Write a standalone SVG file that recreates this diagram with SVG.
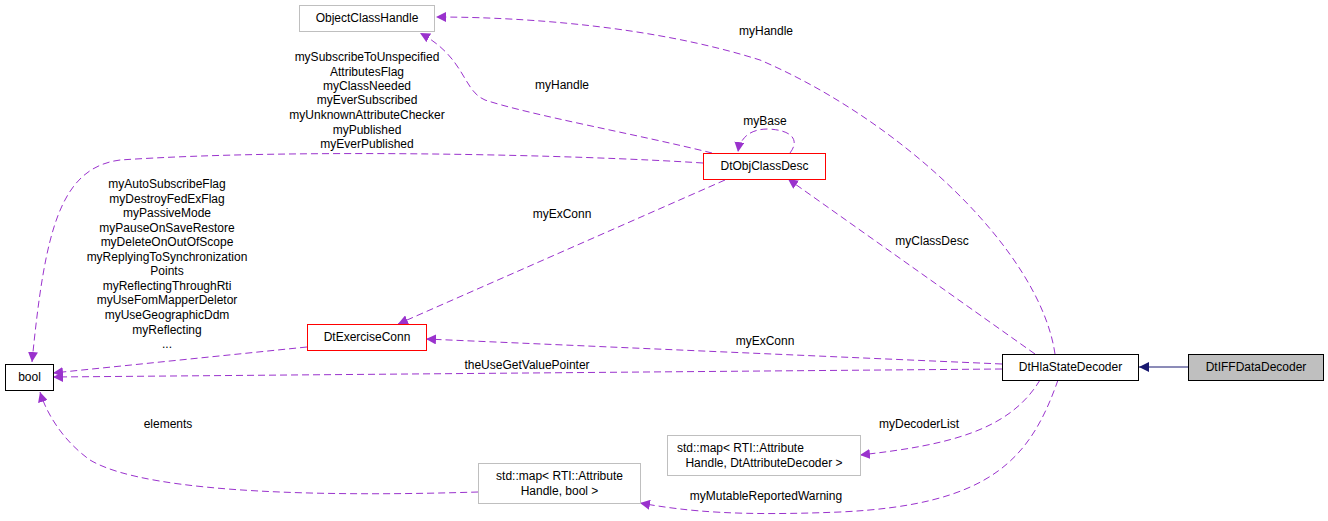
<svg xmlns="http://www.w3.org/2000/svg" width="1328" height="521" viewBox="0 0 1328 521">
<style>
text{font-family:"Liberation Sans",Arial,sans-serif;font-size:12px;fill:#000}
.n rect{fill:#fff;stroke-width:1}
.e{fill:none;stroke:#9a32cd;stroke-dasharray:7,4;stroke-width:1}
.lab{text-anchor:middle}
</style>
<defs>
<marker id="a" viewBox="0 0 10 10" refX="10" refY="5" markerWidth="10" markerHeight="10" markerUnits="userSpaceOnUse" orient="auto"><path d="M0,0L10,5L0,10z" fill="#9a32cd"/></marker>
<marker id="b" viewBox="0 0 10 10" refX="10" refY="5" markerWidth="10" markerHeight="10" markerUnits="userSpaceOnUse" orient="auto"><path d="M0,0L10,5L0,10z" fill="#191970"/></marker>
</defs>
<g id="connectors">
<path class="e" marker-end="url(#a)" d="M1055,354 C1040,250 900,120 760,60 C640,22 500,17 436,17"/>
<text class="lab" x="766" y="35">myHandle</text>
<path class="e" marker-end="url(#a)" d="M712,153 C640,135 530,115 485,100 C462,90 466,58 420,33"/>
<text class="lab" x="562" y="89">myHandle</text>
<path class="e" marker-end="url(#a)" d="M790,153 C800,140 792,130 768,129 C750,129 740,138 738,152"/>
<text class="lab" x="765" y="125">myBase</text>
<path class="e" marker-end="url(#a)" d="M703,163 C580,155 300,148 120,160 C60,168 45,230 32,362"/>
<g class="lab"><text x="367" y="61">mySubscribeToUnspecified</text><text x="367" y="76">AttributesFlag</text><text x="367" y="90">myClassNeeded</text><text x="367" y="104">myEverSubscribed</text><text x="367" y="119">myUnknownAttributeChecker</text><text x="367" y="134">myPublished</text><text x="367" y="148">myEverPublished</text></g>
<path class="e" marker-end="url(#a)" d="M725,180 L398,324"/>
<text class="lab" x="562" y="218">myExConn</text>
<path class="e" marker-end="url(#a)" d="M1035,354 L788,179"/>
<text class="lab" x="932" y="245">myClassDesc</text>
<path class="e" marker-end="url(#a)" d="M1002,364 L426,339"/>
<text class="lab" x="765" y="345">myExConn</text>
<path class="e" marker-end="url(#a)" d="M1002,369 L53,377"/>
<text class="lab" x="527" y="369">theUseGetValuePointer</text>
<path class="e" marker-end="url(#a)" d="M307,347 L53,373"/>
<g class="lab"><text x="167" y="188">myAutoSubscribeFlag</text><text x="167" y="203">myDestroyFedExFlag</text><text x="167" y="217">myPassiveMode</text><text x="167" y="232">myPauseOnSaveRestore</text><text x="167" y="246">myDeleteOnOutOfScope</text><text x="167" y="261">myReplyingToSynchronization</text><text x="167" y="275">Points</text><text x="167" y="290">myReflectingThroughRti</text><text x="167" y="304">myUseFomMapperDeletor</text><text x="167" y="319">myUseGeographicDdm</text><text x="167" y="334">myReflecting</text><text x="167" y="348">...</text></g>
<path class="e" marker-end="url(#a)" d="M478,492 C350,496 150,496 90,460 C62,440 46,412 40,392"/>
<text class="lab" x="168" y="428">elements</text>
<path class="e" marker-end="url(#a)" d="M1040,380 C1010,430 950,445 860,455"/>
<text class="lab" x="919" y="428">myDecoderList</text>
<path class="e" marker-end="url(#a)" d="M1058,380 C1030,460 990,505 840,512 C740,516 690,512 640,503"/>
<text class="lab" x="766" y="500">myMutableReportedWarning</text>
<path fill="none" stroke="#191970" stroke-width="1" marker-end="url(#b)" d="M1188,367 L1139,367"/>
</g>
<g id="ObjectClassHandle" class="n"><rect x="299.5" y="5.5" width="135" height="26" stroke="#bfbfbf"/><text x="367" y="22" text-anchor="middle">ObjectClassHandle</text></g>
<g id="DtObjClassDesc" class="n"><rect x="703.5" y="153.5" width="122" height="26" stroke="#ff0000"/><text x="764.5" y="170" text-anchor="middle">DtObjClassDesc</text></g>
<g id="DtExerciseConn" class="n"><rect x="307.5" y="324.5" width="119" height="26" stroke="#ff0000"/><text x="367" y="341" text-anchor="middle">DtExerciseConn</text></g>
<g id="bool" class="n"><rect x="5.5" y="364.5" width="48" height="26" stroke="#000"/><text x="29.5" y="381" text-anchor="middle">bool</text></g>
<g id="DtHlaStateDecoder" class="n"><rect x="1002.5" y="354.5" width="136" height="26" stroke="#000"/><text x="1070.5" y="371" text-anchor="middle">DtHlaStateDecoder</text></g>
<g id="DtIFFDataDecoder" class="n"><rect x="1188.5" y="354.5" width="135" height="26" stroke="#000" style="fill:#bfbfbf"/><text x="1256" y="371" text-anchor="middle">DtIFFDataDecoder</text></g>
<g id="mapDecoder" class="n"><rect x="667.5" y="435.5" width="193" height="40" stroke="#bfbfbf"/><text x="677" y="452">std::map&lt; RTI::Attribute</text><text x="764" y="467" text-anchor="middle">Handle, DtAttributeDecoder &gt;</text></g>
<g id="mapBool" class="n"><rect x="478.5" y="463.5" width="162" height="40" stroke="#bfbfbf"/><text x="559.5" y="480" text-anchor="middle">std::map&lt; RTI::Attribute</text><text x="559.5" y="495" text-anchor="middle">Handle, bool &gt;</text></g>
</svg>
